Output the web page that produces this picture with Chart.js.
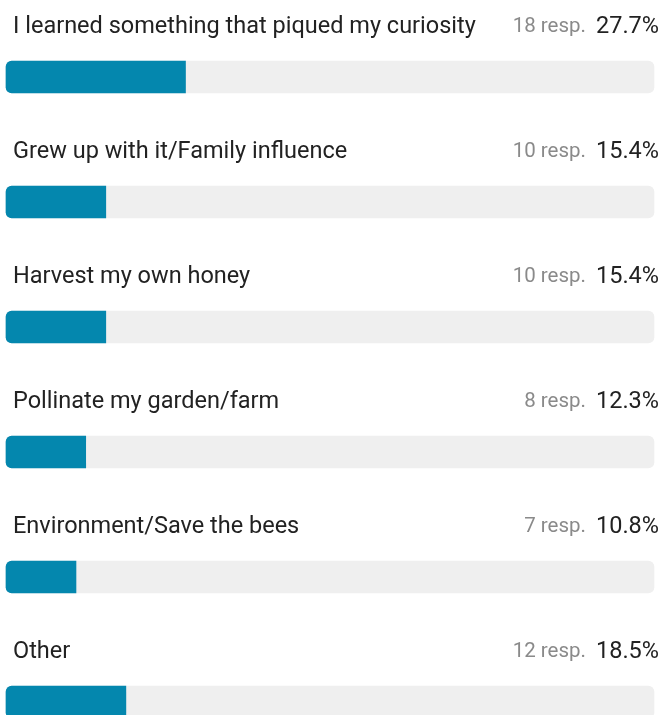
<!DOCTYPE html>
<html>
<head>
<meta charset="utf-8">
<script src="https://cdn.jsdelivr.net/npm/chart.js@4/dist/chart.umd.min.js"></script>
<style>
  html, body { margin: 0; padding: 0; background: #ffffff; }
  #wrap { position: relative; width: 672px; height: 715px; }
</style>
</head>
<body>
<div id="wrap"><canvas id="c" width="672" height="715"></canvas></div>
<script>
const categories = [
  "I learned something that piqued my curiosity",
  "Grew up with it/Family influence",
  "Harvest my own honey",
  "Pollinate my garden/farm",
  "Environment/Save the bees",
  "Other"
];
const responses = [18, 10, 10, 8, 7, 12];
const percents = [27.7, 15.4, 15.4, 12.3, 10.8, 18.5];
const trackValues = [100, 100, 100, 100, 100, 100];

const FONT = "Roboto, 'Noto Sans', 'DejaVu Sans', sans-serif";

const labelPlugin = {
  id: 'rowLabels',
  afterDatasetsDraw(chart) {
    const ctx = chart.ctx;
    const y = chart.scales.y;
    ctx.save();
    ctx.textBaseline = 'middle';
    categories.forEach((cat, i) => {
      const cy = y.getPixelForValue(i) - 50;
      ctx.font = "23.5px " + FONT;
      ctx.fillStyle = '#222222';
      ctx.textAlign = 'left';
      ctx.fillText(cat, 13, cy);
      const pct = percents[i].toFixed(1) + '%';
      ctx.textAlign = 'right';
      ctx.fillText(pct, 659, cy);
      const pw = ctx.measureText(pct).width;
      ctx.font = "20.5px " + FONT;
      ctx.fillStyle = '#8a8a8a';
      ctx.fillText(responses[i] + ' resp.', 659 - pw - 10, cy);
    });
    ctx.restore();
  }
};

new Chart(document.getElementById('c'), {
  type: 'bar',
  data: {
    labels: categories,
    datasets: [
      {
        data: percents,
        backgroundColor: '#0487ae',
        borderRadius: { topLeft: 6, bottomLeft: 6, topRight: 0, bottomRight: 0 },
        borderSkipped: false,
        barThickness: 32,
        grouped: false,
        order: 0,
        clip: false
      },
      {
        data: trackValues,
        backgroundColor: '#efefef',
        borderRadius: 6,
        borderSkipped: false,
        barThickness: 32,
        grouped: false,
        order: 1,
        clip: false
      }
    ]
  },
  options: {
    indexAxis: 'y',
    responsive: false,
    animation: false,
    events: [],
    layout: { padding: { left: 6, right: 18, top: 77, bottom: 13 } },
    plugins: { legend: { display: false }, tooltip: { enabled: false } },
    scales: {
      x: { display: false, min: 0, max: 100 },
      y: { display: false, offset: false }
    }
  },
  plugins: [labelPlugin]
});
</script>
</body>
</html>
